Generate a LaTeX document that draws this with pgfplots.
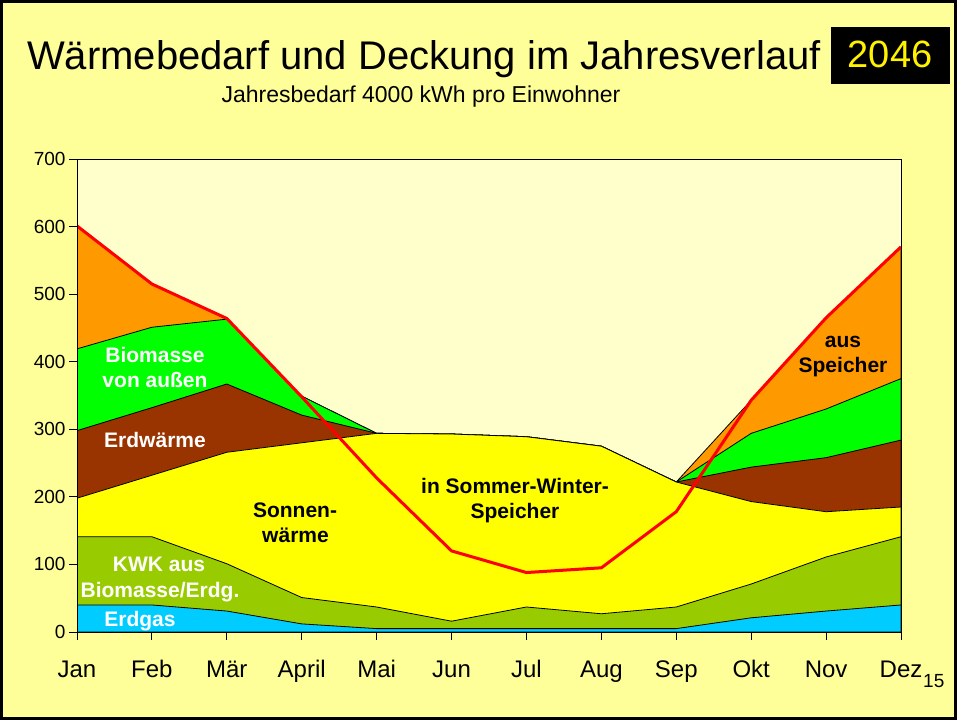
\documentclass[border=0pt]{standalone}
\usepackage{fontspec}
\setmainfont{Liberation Sans}
\usepackage{pgfplots}
\pgfplotsset{compat=1.18}
\definecolor{bgout}{HTML}{FFFF99}
\definecolor{bgin}{HTML}{FFFFCC}
\definecolor{cOrange}{HTML}{FF9900}
\definecolor{cGreen}{HTML}{00FF00}
\definecolor{cBrown}{HTML}{993300}
\definecolor{cYellow}{HTML}{FFFF00}
\definecolor{cKWK}{HTML}{99CC00}
\definecolor{cGas}{HTML}{00CCFF}
\begin{document}
\begin{tikzpicture}[x=1pt,y=1pt]
\useasboundingbox (0,0) rectangle (957,720);
\fill[bgout] (0,0) rectangle (957,720);
\begin{axis}[
  at={(77pt,88pt)}, anchor=south west,
  scale only axis, width=824pt, height=473pt,
  xmin=0, xmax=11, ymin=0, ymax=700,
  xtick={0,...,11},
  xticklabels={Jan,Feb,Mär,April,Mai,Jun,Jul,Aug,Sep,Okt,Nov,Dez},
  ytick={0,100,...,700},
  xtick pos=bottom, ytick pos=left,
  tick align=outside, major tick length=8pt,
  tick style={black, line width=0.9pt},
  axis line style={black, line width=0.9pt},
  axis background/.style={fill=bgin},
  axis on top,
  /pgf/number format/assume math mode=true,
  x tick label style={font=\fontsize{24}{26}\selectfont, text height=17pt, text depth=5pt, yshift=-17pt},
  y tick label style={font=\fontsize{19}{21}\selectfont},
]
\addplot[fill=cOrange, draw=black, line width=0.8pt] coordinates {(0,601)(1,515)(2,464)(3,349)(4,294)(5,293)(6,289)(7,275)(8,222)(9,343)(10,465)(11,570)} \closedcycle;
\addplot[fill=cGreen, draw=black, line width=0.8pt] coordinates {(0,419)(1,451)(2,463)(3,349)(4,294)(5,293)(6,289)(7,275)(8,222)(9,294)(10,330)(11,375)} \closedcycle;
\addplot[fill=cBrown, draw=black, line width=0.8pt] coordinates {(0,298)(1,332)(2,367)(3,321)(4,294)(5,293)(6,289)(7,275)(8,222)(9,244)(10,258)(11,284)} \closedcycle;
\addplot[fill=cYellow, draw=black, line width=0.8pt] coordinates {(0,198)(1,232)(2,266)(3,280)(4,294)(5,293)(6,289)(7,275)(8,222)(9,193)(10,178)(11,185)} \closedcycle;
\addplot[fill=cKWK, draw=black, line width=0.8pt] coordinates {(0,141)(1,141)(2,101)(3,51)(4,37)(5,16)(6,37)(7,27)(8,37)(9,71)(10,111)(11,141)} \closedcycle;
\addplot[fill=cGas, draw=black, line width=0.8pt] coordinates {(0,40)(1,40)(2,31)(3,12)(4,5)(5,5)(6,5)(7,5)(8,5)(9,21)(10,31)(11,40)} \closedcycle;
\addplot[red, line width=3pt, line join=round] coordinates {(0,601)(1,515)(2,464)(3,348)(4,228)(5,120)(6,88)(7,95)(8,178)(9,343)(10,465)(11,570)};
\end{axis}
% title
\node[anchor=base, font=\fontsize{40}{44}\selectfont] at (424,650) {Wärmebedarf und Deckung im Jahresverlauf};
\node[anchor=base, font=\fontsize{23}{26}\selectfont] at (421,617) {Jahresbedarf 4000 kWh pro Einwohner};
\fill[black] (831,636) rectangle (950,693);
\node[anchor=base, font=\fontsize{38}{42}\selectfont, text=yellow] at (890,652) {2046};
\node[anchor=base west, font=\fontsize{19}{21}\selectfont, inner sep=0pt] at (923,33) {15};
% area labels
\begin{scope}[every node/.style={anchor=base, font=\fontsize{21}{24}\bfseries\selectfont}]
\node[text=white] at (155,357.5) {Biomasse};
\node[text=white] at (155,332.5) {von außen};
\node[text=white] at (155,272.5) {Erdwärme};
\node[text=black] at (295,202.5) {Sonnen-};
\node[text=black] at (295.5,177.5) {wärme};
\node[text=black] at (515,226.5) {in Sommer-Winter-};
\node[text=black] at (515,201) {Speicher};
\node[text=black] at (843,372.5) {aus};
\node[text=black] at (843,347) {Speicher};
\node[text=white] at (159,148.5) {KWK aus};
\node[text=white] at (160,122.5) {Biomasse/Erdg.};
\node[text=white] at (140,93.5) {Erdgas};
\end{scope}
\draw[black, line width=3pt] (1.5,1.5) rectangle (955.5,718.5);
\end{tikzpicture}
\end{document}
